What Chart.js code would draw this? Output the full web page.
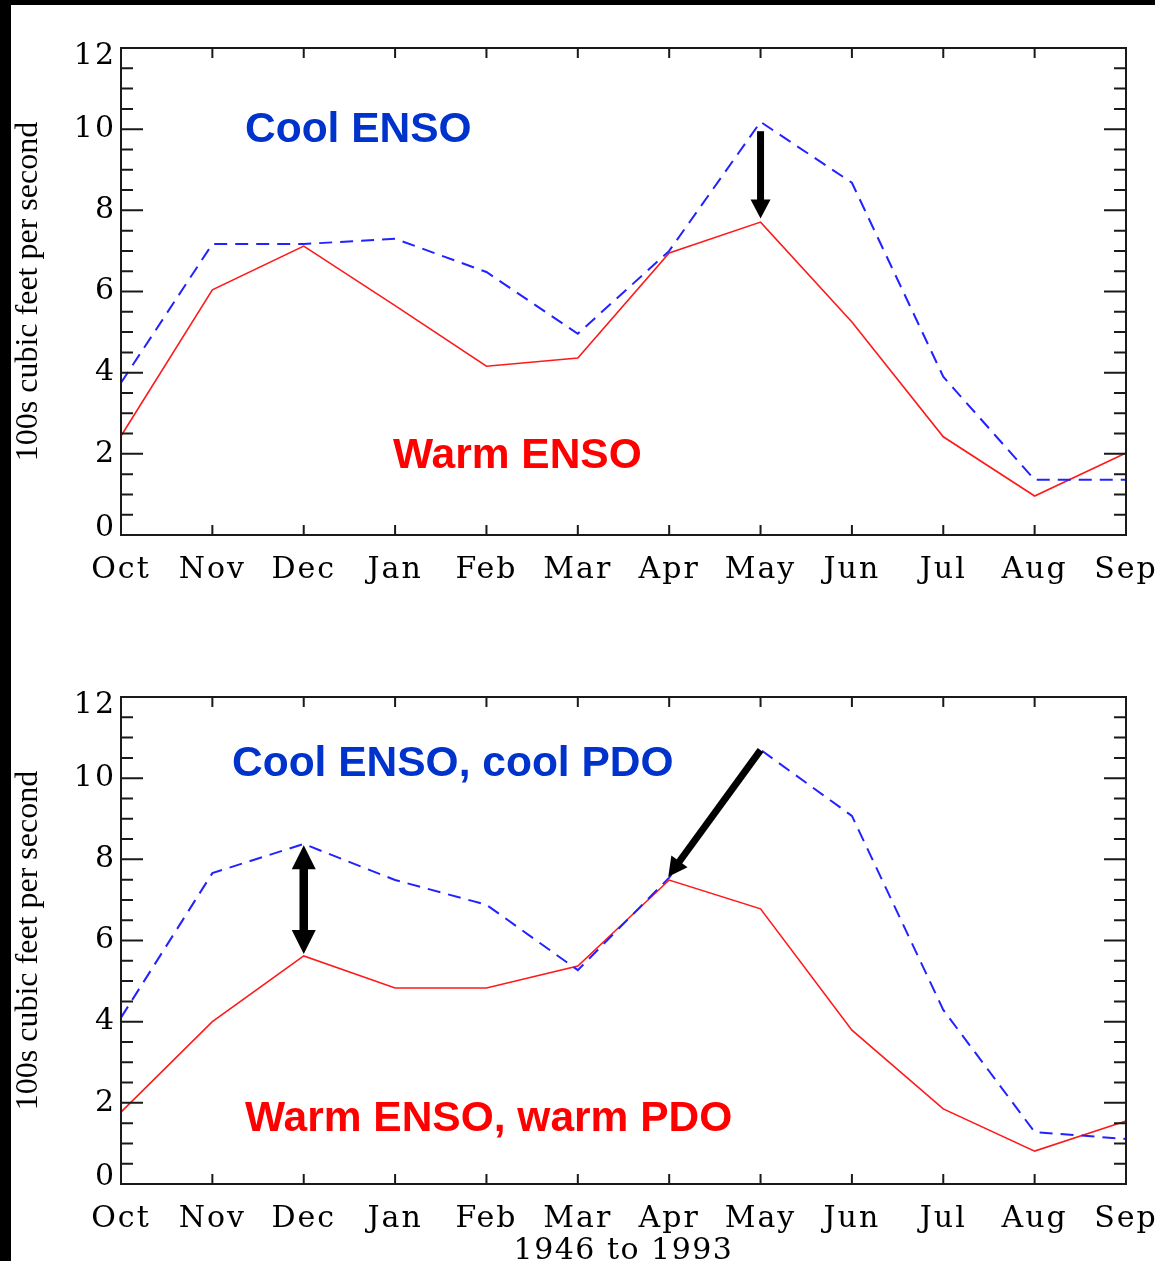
<!DOCTYPE html>
<html>
<head>
<meta charset="utf-8">
<script src="https://cdn.jsdelivr.net/npm/chart.js@4.4.1/dist/chart.umd.min.js"></script>
<style>
  html, body { margin: 0; padding: 0; background: #fff; overflow: hidden; width: 1155px; height: 1261px; }
  #wrap { position: relative; width: 1180px; height: 1261px; }
  #c1 { position: absolute; left: 0; top: 0; }
  #c2 { position: absolute; left: 0; top: 640px; }
  #barL { position: absolute; left: 0; top: 0; width: 11px; height: 1261px; background: #000; z-index: 5; }
  #barT { position: absolute; left: 0; top: 0; width: 1180px; height: 5px; background: #000; z-index: 5; }
</style>
</head>
<body>
<div id="wrap">
  <canvas id="c1" width="1180" height="640"></canvas>
  <canvas id="c2" width="1180" height="621"></canvas>
  <div id="barL"></div>
  <div id="barT"></div>
</div>
<script>
// ---------- data ----------
const months = ['Oct', 'Nov', 'Dec', 'Jan', 'Feb', 'Mar', 'Apr', 'May', 'Jun', 'Jul', 'Aug', 'Sep'];
const coolEnso        = [3.75, 7.17, 7.17, 7.30, 6.48, 4.96, 7.00, 10.18, 8.68, 3.90, 1.36, 1.36];
const warmEnso        = [2.44, 6.04, 7.12, 5.65, 4.16, 4.36, 6.95, 7.71, 5.25, 2.42, 0.96, 2.02];
const coolEnsoCoolPdo = [4.10, 7.66, 8.38, 7.49, 6.88, 5.27, 7.55, 10.70, 9.07, 4.29, 1.28, 1.11];
const warmEnsoWarmPdo = [1.77, 4.00, 5.62, 4.83, 4.83, 5.37, 7.49, 6.78, 3.79, 1.85, 0.81, 1.55];
const yMin = 0, yMax = 12, yMajorStep = 2, yMinorStep = 0.5;
const yAxisTitle = '100s cubic feet per second';
const xAxisTitleBottom = '1946 to 1993';

// annotation anchors (month index / value)
const topLabels = [
  { text: 'Cool ENSO', x: 1.357, y: 9.68, color: '#0033cc' },
  { text: 'Warm ENSO', x: 2.977, y: 1.65, color: '#ff0000' }
];
const bottomLabels = [
  { text: 'Cool ENSO, cool PDO', x: 1.215, y: 10.05, color: '#0033cc' },
  { text: 'Warm ENSO, warm PDO', x: 1.357, y: 1.31, color: '#ff0000' }
];
const topArrows = [
  { x0: 7, y0: 9.95, x1: 7, y1: 7.80, double: false }
];
const bottomArrows = [
  { x0: 2, y0: 8.35, x1: 2, y1: 5.67, double: true },
  { x0: 7, y0: 10.69, x1: 5.99, y1: 7.57, double: false }
];

// ---------- plugin: frame, inward ticks, labels, arrows ----------
function drawArrowHead(ctx, xa, ya, xb, yb, len, half) {
  const ang = Math.atan2(yb - ya, xb - xa);
  ctx.beginPath();
  ctx.moveTo(xb, yb);
  ctx.lineTo(xb - len * Math.cos(ang) + half * Math.sin(ang), yb - len * Math.sin(ang) - half * Math.cos(ang));
  ctx.lineTo(xb - len * Math.cos(ang) - half * Math.sin(ang), yb - len * Math.sin(ang) + half * Math.cos(ang));
  ctx.closePath();
  ctx.fill();
}
function withSpacing(scale, name, spacing) {
  const flag = '_ls_' + name;
  if (scale[flag]) return;
  const orig = scale[name];
  scale[name] = function (...args) {
    const c = this.ctx;
    c.save();
    c.letterSpacing = spacing;
    const r = orig.apply(this, args);
    c.restore();
    return r;
  };
  scale[flag] = true;
}
// end labels of the y axis sit slightly inside the plot range, as in the original
function nudgeEndLabels(scale) {
  if (scale._nudged) return;
  const orig = scale.getLabelItems;
  scale.getLabelItems = function (ca) {
    const items = orig.call(this, ca);
    try {
      return items.map((it, i) => {
        const t = this.ticks[i];
        if (!t || !it.options || !it.options.translation) return it;
        let dy = 0;
        if (t.value === yMin) dy = -7;
        else if (t.value === yMax) dy = 8;
        if (!dy) return it;
        const tr = it.options.translation;
        return Object.assign({}, it, { options: Object.assign({}, it.options, { translation: [tr[0], tr[1] + dy] }) });
      });
    } catch (e) { return items; }
  };
  scale._nudged = true;
}
const framePlugin = {
  id: 'frameTicks',
  afterUpdate(chart) {
    withSpacing(chart.scales.x, 'drawLabels', '2px');
    withSpacing(chart.scales.x, 'drawTitle', '1.5px');
    withSpacing(chart.scales.y, 'drawLabels', '2px');
    nudgeEndLabels(chart.scales.y);
  },
  afterDraw(chart, args, opts) {
    const { ctx, chartArea: a } = chart;
    const xs = chart.scales.x, ys = chart.scales.y;
    ctx.save();
    ctx.strokeStyle = '#1a1a1a';
    ctx.lineWidth = 2;
    ctx.strokeRect(a.left, a.top, a.right - a.left, a.bottom - a.top);
    ctx.beginPath();
    months.forEach((m, i) => {
      const px = xs.getPixelForValue(i);
      ctx.moveTo(px, a.bottom); ctx.lineTo(px, a.bottom - 10);
      ctx.moveTo(px, a.top); ctx.lineTo(px, a.top + 10);
    });
    for (let v = yMin; v <= yMax + 1e-9; v += yMinorStep) {
      const py = ys.getPixelForValue(v);
      const len = (Math.abs(v % yMajorStep) < 1e-9) ? 22 : 12;
      ctx.moveTo(a.left, py); ctx.lineTo(a.left + len, py);
      ctx.moveTo(a.right, py); ctx.lineTo(a.right - len, py);
    }
    ctx.stroke();

    // arrows
    ctx.fillStyle = '#000';
    ctx.strokeStyle = '#000';
    (opts.arrows || []).forEach(ar => {
      const xa = xs.getPixelForValue(ar.x0), ya = ys.getPixelForValue(ar.y0);
      const xb = xs.getPixelForValue(ar.x1), yb = ys.getPixelForValue(ar.y1);
      const len = ar.double ? 24 : 19, half = ar.double ? 12 : 10;
      const ang = Math.atan2(yb - ya, xb - xa);
      ctx.lineWidth = ar.double ? 8.5 : 7;
      ctx.lineCap = 'butt';
      ctx.beginPath();
      const sx = ar.double ? xa + (len - 2) * Math.cos(ang) : xa;
      const sy = ar.double ? ya + (len - 2) * Math.sin(ang) : ya;
      ctx.moveTo(sx, sy);
      ctx.lineTo(xb - (len - 2) * Math.cos(ang), yb - (len - 2) * Math.sin(ang));
      ctx.stroke();
      drawArrowHead(ctx, xa, ya, xb, yb, len, half);
      if (ar.double) drawArrowHead(ctx, xb, yb, xa, ya, len, half);
    });

    // text labels
    ctx.font = 'bold 42.5px "Liberation Sans", Arial, sans-serif';
    ctx.textAlign = 'left';
    ctx.textBaseline = 'alphabetic';
    (opts.labels || []).forEach(l => {
      ctx.fillStyle = l.color;
      ctx.fillText(l.text, xs.getPixelForValue(l.x), ys.getPixelForValue(l.y));
    });
    ctx.restore();
  }
};

function makeConfig(cool, warm, labels, arrows, xTitle, xHeight, padTop) {
  return {
    type: 'line',
    data: {
      labels: months,
      datasets: [
        { label: 'cool', data: cool, borderColor: '#2222ff', borderWidth: 2, borderDash: [13, 8],
          pointRadius: 0, tension: 0, fill: false },
        { label: 'warm', data: warm, borderColor: '#ff1a1a', borderWidth: 1.6,
          pointRadius: 0, tension: 0, fill: false }
      ]
    },
    options: {
      responsive: false,
      animation: false,
      events: [],
      layout: { padding: { top: padTop, right: 54, left: 0, bottom: 0 } },
      plugins: {
        legend: { display: false },
        tooltip: { enabled: false },
        frameTicks: { labels: labels, arrows: arrows }
      },
      scales: {
        x: {
          type: 'category',
          offset: false,
          grid: { display: false, drawTicks: false },
          border: { display: false },
          ticks: { color: '#000', padding: 17, maxRotation: 0, autoSkip: false,
                   font: { family: '"DejaVu Serif", serif', size: 30 } },
          title: xTitle ? { display: true, text: xTitle, color: '#000',
                   font: { family: '"DejaVu Serif", serif', size: 30, lineHeight: 1 },
                   padding: { top: 0, bottom: -5 } } : { display: false },
          afterFit: (s) => { s.height = xHeight; }
        },
        y: {
          min: yMin, max: yMax,
          grid: { display: false, drawTicks: false },
          border: { display: false },
          ticks: { stepSize: yMajorStep, color: '#000', padding: 5,
                   font: { family: '"DejaVu Serif", serif', size: 30 } },
          title: { display: true, text: yAxisTitle, color: '#000',
                   font: { family: '"Liberation Serif", serif', size: 32, lineHeight: 1.2 },
                   padding: { top: 9, bottom: 0 } },
          afterFit: (s) => { s.width = 121; }
        }
      }
    },
    plugins: [framePlugin]
  };
}

new Chart(document.getElementById('c1'),
  makeConfig(coolEnso, warmEnso, topLabels, topArrows, null, 105, 48));
new Chart(document.getElementById('c2'),
  makeConfig(coolEnsoCoolPdo, warmEnsoWarmPdo, bottomLabels, bottomArrows, xAxisTitleBottom, 77, 57));
</script>
</body>
</html>
